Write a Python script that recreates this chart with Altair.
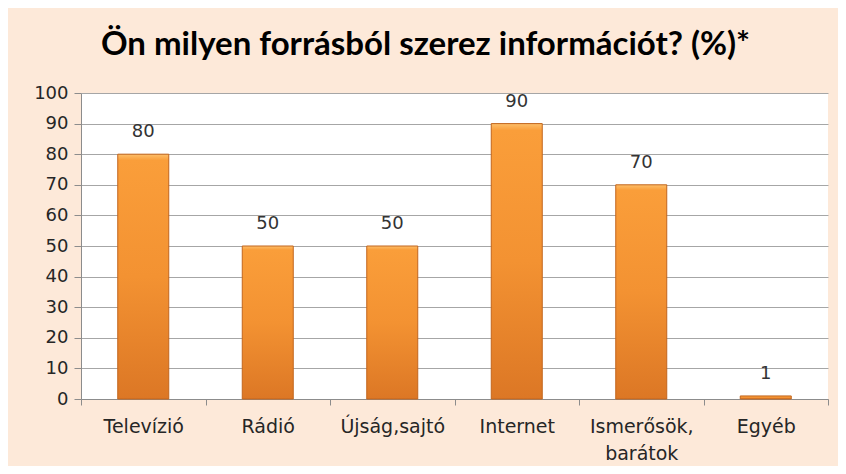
import altair as alt
import pandas as pd

categories = ["Televízió", "Rádió", "Újság,sajtó", "Internet", "Ismerősök, barátok", "Egyéb"]
values = [80, 50, 50, 90, 70, 1]
y_ticks = [0, 10, 20, 30, 40, 50, 60, 70, 80, 90, 100]
title_text = "Ön milyen forrásból szerez információt? (%)*"

df = pd.DataFrame({"forras": categories, "szazalek": values})

W, H = 747, 306

x = alt.X(
    "forras:N",
    sort=categories,
    scale=alt.Scale(paddingInner=0, paddingOuter=0),
    axis=alt.Axis(
        title=None,
        tickBand="extent",
        labelAngle=0,
        labelFont="DejaVu Sans",
        labelFontSize=19,
        labelColor="#262626",
        labelPadding=12,
        labelBaseline="top",
        labelLineHeight=27,
        labelExpr="split(datum.label, ' ')",
        ticks=True,
        tickSize=6,
        tickColor="#8c8c8c",
        domainColor="#8c8c8c",
        grid=False,
    ),
)
y = alt.Y(
    "szazalek:Q",
    scale=alt.Scale(domain=[0, 100], nice=False),
    axis=alt.Axis(
        title=None,
        values=y_ticks,
        labelFont="DejaVu Sans",
        labelFontSize=18,
        labelColor="#262626",
        labelPadding=6,
        tickSize=7,
        tickColor="#8c8c8c",
        domainColor="#8c8c8c",
        gridColor="#a6a6a6",
        grid=True,
    ),
)

base = alt.Chart(df).encode(x=x, y=y)

bars = base.mark_bar(
    size=51,
    stroke="#c2651c",
    strokeWidth=1,
    color=alt.Gradient(
        gradient="linear",
        x1=0, y1=0, x2=0, y2=1,
        stops=[
            alt.GradientStop(offset=0, color="#fdbf6a"),
            alt.GradientStop(offset=0.025, color="#fa9e3a"),
            alt.GradientStop(offset=0.5, color="#f39232"),
            alt.GradientStop(offset=1, color="#dc7725"),
        ],
    ),
)

labels = base.mark_text(
    font="DejaVu Sans",
    fontSize=18,
    color="#333333",
    baseline="alphabetic",
    dy=-17,
).encode(text="szazalek:Q")

chart = (
    alt.layer(bars, labels)
    .properties(
        width=W,
        height=H,
        background="#fde9d9",
        padding={"left": 73, "top": 85, "right": 10, "bottom": 67},
        autosize=alt.AutoSizeParams(type="none"),
        title=alt.TitleParams(
            title_text,
            font="Lato",
            fontSize=33,
            fontWeight="bold",
            color="#000000",
            anchor="middle",
            frame="group",
            dx=-29,
            offset=22,
        ),
    )
    .configure_view(fill="#ffffff", stroke=None)
)

chart.save("out.html", embed_options={"renderer": "svg", "actions": False})
